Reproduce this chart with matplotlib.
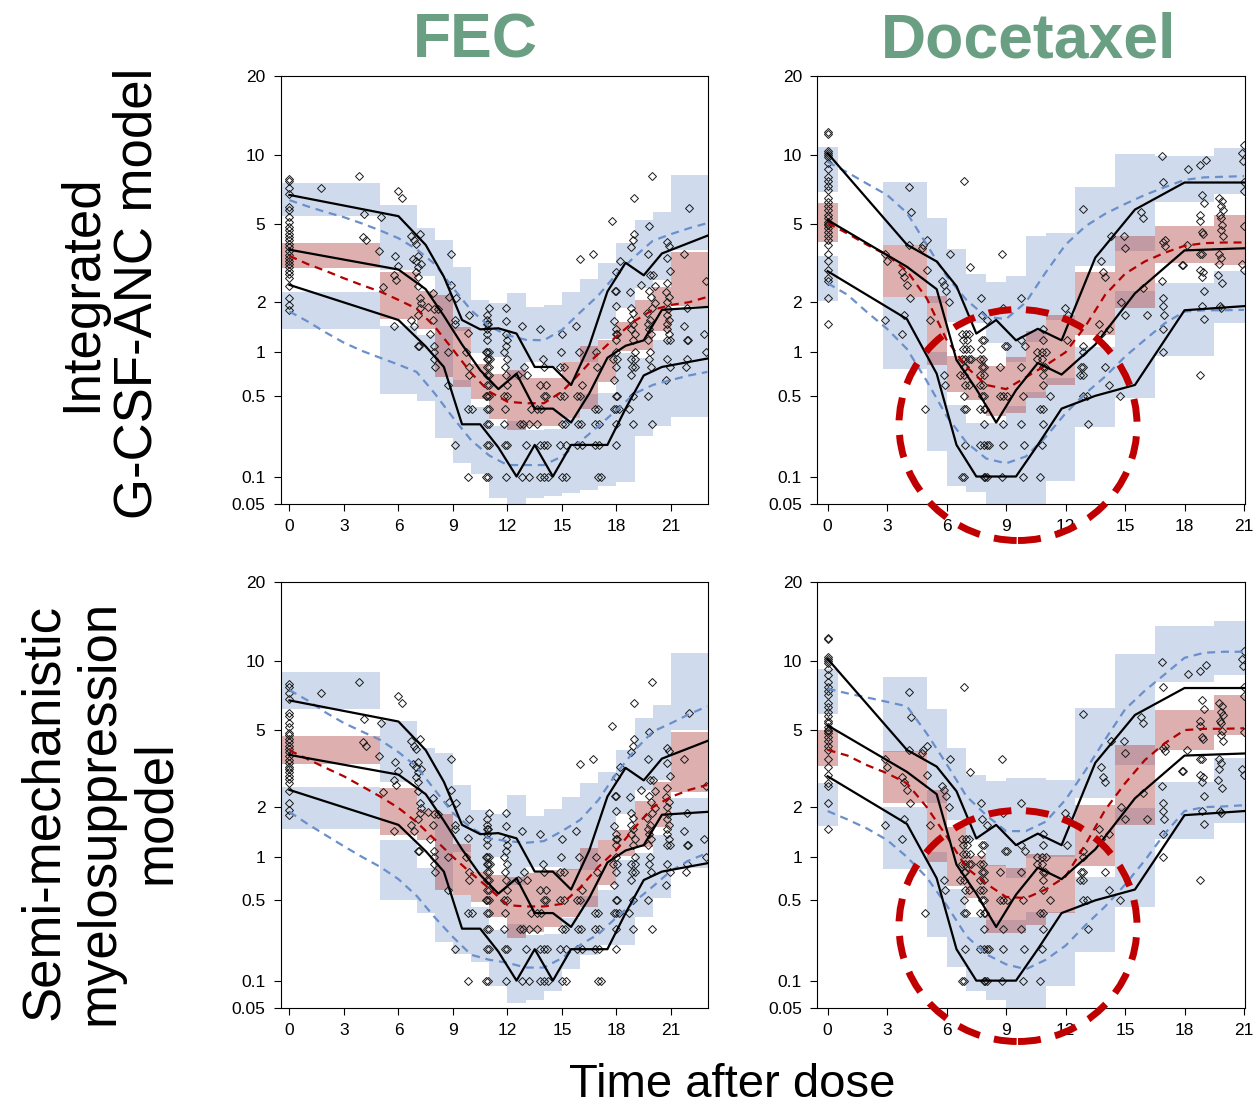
import numpy as np
import matplotlib.pyplot as plt
from matplotlib.patches import Ellipse
from matplotlib.ticker import NullLocator

plt.rcParams['font.family'] = ['Liberation Sans', 'DejaVu Sans']

# ---------------- FEC ----------------
fec_bin_lo = [-0.5, 5, 7, 8, 9, 10, 11, 12, 13, 14, 15, 16, 17, 18, 19, 20, 21]
fec_bin_hi = [5, 7, 8, 9, 10, 11, 12, 13, 14, 15, 16, 17, 18, 19, 20, 21, 23.1]

# CI of simulated percentiles per bin (low, high): integrated G-CSF-ANC model
fec_int_p95 = [(5.45, 7.7), (3.0, 6.13), (2.79, 4.79), (1.31, 4.23), (1.35, 3.08), (0.985, 2.06),
               (0.937, 1.97), (0.652, 2.24), (0.867, 1.88), (0.80, 1.93), (0.867, 2.29), (0.867, 2.67),
               (1.22, 3.23), (1.85, 4.07), (2.39, 5.24), (2.65, 5.73), (3.77, 8.27)]
fec_int_p50 = [(3.04, 4.09), (1.61, 2.90), (1.39, 2.31), (0.685, 2.19), (0.584, 1.43), (0.47, 0.837),
               (0.33, 0.72), (0.267, 0.762), (0.289, 0.67), (0.293, 0.67), (0.336, 0.86), (0.40, 1.09),
               (0.634, 1.20), (1.02, 1.53), (1.04, 2.07), (1.35, 2.44), (1.91, 3.70)]
fec_int_p05 = [(1.40, 2.29), (0.52, 1.46), (0.46, 1.28), (0.228, 1.34), (0.135, 0.652), (0.107, 0.413),
               (0.058, 0.289), (0.05, 0.317), (0.058, 0.27), (0.062, 0.275), (0.066, 0.339), (0.072, 0.52),
               (0.08, 0.528), (0.088, 0.985), (0.237, 0.913), (0.289, 1.20), (0.346, 1.85)]
# semi-mechanistic myelosuppression model
fec_sm_p95 = [(6.22, 9.0), (2.76, 5.5), (1.93, 4.1), (1.06, 3.84), (1.07, 2.63), (0.80, 1.92),
              (1.0, 1.84), (0.65, 2.34), (0.863, 1.79), (0.863, 1.94), (0.82, 2.29), (0.82, 2.70),
              (1.28, 3.11), (1.84, 3.99), (2.49, 5.66), (2.81, 6.5), (5.0, 10.8)]
fec_sm_p50 = [(3.42, 4.67), (1.38, 2.54), (1.28, 1.93), (0.60, 1.84), (0.55, 1.21), (0.49, 0.80),
              (0.375, 0.76), (0.252, 0.74), (0.28, 0.778), (0.312, 0.82), (0.375, 0.83), (0.449, 1.14),
              (0.65, 1.28), (1.01, 1.48), (1.16, 2.17), (1.53, 2.76), (2.44, 4.90)]
fec_sm_p05 = [(1.50, 2.59), (0.50, 1.28), (0.40, 0.84), (0.232, 1.22), (0.18, 0.55), (0.154, 0.449),
              (0.087, 0.292), (0.057, 0.33), (0.062, 0.264), (0.078, 0.272), (0.13, 0.364), (0.178, 0.54),
              (0.218, 0.597), (0.216, 0.96), (0.37, 1.06), (0.52, 1.38), (0.84, 2.24)]

fec_days = list(range(0, 24))
fec_int_pred_hi = [6.45, 6.05, 5.7, 5.4, 5.05, 4.68, 4.3, 3.8, 3.2, 2.4, 1.8, 1.45, 1.28, 1.2, 1.19, 1.38,
                   1.75, 2.18, 2.84, 3.49, 4.18, 4.5, 4.8, 5.07]
fec_int_pred_med = [3.52, 3.2, 2.95, 2.70, 2.48, 2.29, 2.06, 1.84, 1.44, 1.04, 0.727, 0.537, 0.452, 0.44,
                    0.44, 0.537, 0.727, 0.985, 1.26, 1.56, 1.81, 1.93, 2.0, 2.14]
fec_int_pred_lo = [1.77, 1.55, 1.33, 1.15, 1.02, 0.92, 0.83, 0.74, 0.52, 0.34, 0.22, 0.16, 0.13, 0.13,
                   0.13, 0.157, 0.214, 0.289, 0.39, 0.52, 0.60, 0.65, 0.70, 0.74]
fec_sm_pred_hi = [7.55, 6.8, 6.0, 5.37, 4.9, 4.47, 3.9, 3.3, 2.49, 1.85, 1.52, 1.31, 1.26, 1.23, 1.26,
                  1.45, 1.69, 2.19, 3.05, 3.98, 4.9, 5.36, 5.9, 6.4]
fec_sm_pred_med = [3.98, 3.6, 3.25, 2.94, 2.6, 2.29, 1.98, 1.64, 1.29, 1.0, 0.78, 0.61, 0.46, 0.45, 0.45,
                   0.47, 0.62, 0.86, 1.11, 1.52, 2.0, 2.28, 2.49, 2.65]
fec_sm_pred_lo = [1.88, 1.6, 1.37, 1.17, 1.0, 0.86, 0.71, 0.54, 0.37, 0.255, 0.178, 0.16, 0.15, 0.135,
                  0.135, 0.166, 0.218, 0.27, 0.37, 0.49, 0.63, 0.81, 0.95, 1.06]

# observed percentiles per bin
fec_obs_x = [0, 6, 7.5, 8.5, 9.5, 10.5, 11.5, 12.5, 13.5, 14.5, 15.5, 16.5, 17.5, 18.5, 19.5, 20.5, 23]
fec_obs_hi = [6.8, 5.46, 3.99, 2.75, 1.58, 1.39, 1.41, 1.31, 0.80, 0.80, 0.60, 1.10, 2.29, 3.25, 2.80, 3.62, 4.42]
fec_obs_med = [3.78, 3.0, 2.36, 1.67, 1.12, 0.76, 0.56, 0.72, 0.40, 0.40, 0.31, 0.52, 0.92, 1.1, 1.19, 1.81, 1.88]
fec_obs_lo = [2.49, 1.58, 1.09, 0.80, 0.30, 0.30, 0.19, 0.10, 0.20, 0.10, 0.20, 0.20, 0.20, 0.40, 0.70, 0.80, 0.91]

# observed ANC (time after dose, value)
fec_points = [
    (0, 8.0), (0, 7.8), (0, 7.3), (0, 6.9), (0, 6.0), (0, 5.8), (0, 5.4), (0, 5.15), (0, 4.85), (0, 4.7),
    (0, 4.5), (0, 4.35), (0, 4.2), (0, 4.05), (0, 3.9), (0, 3.72), (0, 3.55), (0, 3.45), (0, 3.3), (0, 3.2),
    (0, 3.08), (0, 2.95), (0, 2.85), (0, 2.7), (0, 2.45), (0, 2.1), (0, 1.93), (0, 1.8),
    (1.74, 7.3), (3.85, 8.2), (4.13, 5.6), (4.04, 4.35), (4.24, 4.2), (4.92, 3.72), (5.05, 5.4), (5.96, 7.1),
    (6.18, 6.6), (5.83, 3.5), (6.0, 3.13), (5.74, 2.8), (5.87, 2.65), (5.17, 2.42), (5.78, 1.45),
    (6.70, 4.4), (6.84, 4.2), (6.97, 4.05), (7.16, 4.5), (6.79, 3.4), (6.97, 3.3), (7.1, 3.5), (7.25, 3.2),
    (7.06, 3.1), (6.97, 2.9), (7.1, 2.75), (7.06, 2.45), (7.16, 2.1), (7.25, 1.97), (7.21, 1.85), (7.06, 1.7),
    (6.7, 1.58), (6.88, 1.45), (7.06, 1.1), (7.12, 1.1), (7.61, 1.88), (7.76, 1.3), (7.89, 2.25), (7.98, 1.82),
    (8.17, 1.82), (7.89, 1.58), (7.98, 1.1), (7.98, 1.0), (7.93, 0.9), (8.02, 0.8),
    (8.9, 3.6), (8.9, 2.5), (8.77, 2.15), (9.17, 2.1), (9.12, 1.58), (9.12, 1.5), (8.72, 1.0), (8.72, 0.6),
    (9.91, 1.7), (9.82, 1.32), (9.72, 1.0), (9.91, 0.8), (9.91, 0.7), (9.12, 0.2), (9.85, 0.1),
    (10.88, 1.7), (11.0, 1.85), (10.9, 1.58), (10.85, 1.5), (10.95, 1.5), (10.9, 1.4), (10.9, 1.3),
    (10.9, 1.2), (10.8, 1.0), (10.9, 1.0), (11.0, 1.0), (10.85, 0.9), (10.95, 0.9), (11.05, 0.9),
    (10.85, 0.8), (11.0, 0.8), (10.85, 0.7), (11.0, 0.7), (10.85, 0.6), (11.0, 0.6), (10.8, 0.5),
    (10.9, 0.5), (11.0, 0.5), (9.85, 0.4), (10.05, 0.4), (10.85, 0.4), (11.0, 0.4), (10.85, 0.3),
    (11.0, 0.3), (10.85, 0.2), (11.0, 0.2), (10.8, 0.1), (10.95, 0.1),
    (11.9, 1.85), (11.9, 1.55), (11.9, 1.3), (11.95, 1.2), (11.9, 1.1), (11.8, 1.0), (11.95, 0.9),
    (11.85, 0.8), (11.9, 0.7), (11.95, 0.6), (11.8, 0.5), (11.95, 0.5), (11.85, 0.4), (11.8, 0.3),
    (11.85, 0.2), (11.95, 0.2), (11.9, 0.1),
    (12.79, 1.45), (13.0, 0.2), (12.8, 0.1), (13.2, 0.1), (12.6, 0.7), (12.9, 0.8), (13.05, 0.7),
    (12.7, 0.3), (12.85, 0.3), (13.8, 1.4), (13.96, 0.9), (14.0, 0.8), (13.8, 0.6), (14.1, 0.6),
    (14.0, 0.5), (14.1, 0.5), (13.3, 0.4), (13.6, 0.4), (13.85, 0.4), (13.2, 0.3), (13.6, 0.3),
    (13.8, 0.2), (14.0, 0.2), (14.2, 0.2), (13.8, 0.1), (14.0, 0.1), (14.25, 0.1),
    (14.94, 1.0), (15.0, 1.3), (14.9, 0.8), (15.1, 0.8), (14.9, 0.5), (15.1, 0.5), (15.0, 0.3),
    (15.15, 0.3), (14.9, 0.2), (15.2, 0.2), (15.0, 0.1), (15.2, 0.1),
    (15.76, 1.45), (16.0, 3.4), (15.95, 1.0), (15.8, 0.5), (16.0, 0.5), (16.1, 0.6), (15.9, 0.3),
    (16.05, 0.3), (15.85, 0.2), (16.1, 0.2), (16.73, 3.6), (16.86, 1.0), (16.95, 0.8), (16.8, 0.4),
    (17.0, 0.4), (16.8, 0.3), (17.05, 0.3), (16.8, 0.2), (17.05, 0.2), (17.0, 0.1), (17.15, 0.1),
    (17.78, 5.2), (17.97, 2.9), (17.9, 2.3), (18.0, 2.3), (17.95, 1.9), (17.85, 1.55), (18.0, 1.4),
    (17.95, 1.3), (18.05, 1.3), (17.95, 1.2), (18.0, 1.0), (17.8, 0.9), (18.05, 0.9), (17.95, 0.8),
    (17.85, 0.65), (17.95, 0.5), (18.05, 0.5), (17.85, 0.4), (18.0, 0.4), (18.15, 0.4), (17.95, 0.3),
    (17.95, 0.2), (18.2, 3.3),
    (18.8, 3.9), (18.9, 4.2), (18.95, 4.5), (18.95, 6.6), (18.75, 2.27), (18.8, 1.85), (18.9, 1.73),
    (18.8, 1.58), (18.9, 1.5), (18.8, 1.4), (19.0, 1.3), (18.9, 1.2), (19.0, 1.0), (18.8, 0.9), (19.0, 0.9),
    (18.85, 0.8), (19.0, 0.8), (18.8, 0.7), (18.9, 0.5), (18.7, 0.4), (18.9, 0.3),
    (19.33, 2.5), (19.8, 4.9), (19.75, 3.6), (19.86, 2.8), (19.8, 2.3), (19.9, 2.15), (19.7, 1.73),
    (19.85, 1.58), (19.75, 1.5), (19.8, 1.4), (19.9, 1.3), (19.75, 1.2), (19.85, 1.0), (19.8, 0.9),
    (19.9, 0.8), (19.75, 0.5), (19.95, 0.3), (19.96, 8.2), (20.1, 2.45), (20.0, 2.8), (20.1, 1.97),
    (19.98, 1.85),
    (20.8, 4.1), (20.9, 3.95), (20.8, 3.45), (20.95, 2.95), (20.8, 2.55), (20.75, 2.27), (20.9, 2.14),
    (20.8, 2.0), (20.85, 1.83), (20.8, 1.7), (20.9, 1.58), (20.8, 1.5), (20.8, 1.4), (20.9, 1.3),
    (20.8, 1.2), (20.95, 1.2), (20.8, 0.9), (20.95, 0.8), (20.75, 0.65),
    (21.7, 3.6), (21.99, 5.95), (21.87, 1.85), (21.7, 1.45), (21.87, 1.2), (21.95, 1.2), (21.87, 0.9),
    (21.8, 0.8), (22.9, 2.6), (22.8, 1.3), (22.9, 1.0),
]

# ---------------- Docetaxel ----------------
doc_bin_lo = [-0.6, 2.8, 5, 6, 7, 8, 9, 10, 11, 12.5, 14.5, 16.5, 19.5]
doc_bin_hi = [0.5, 5, 6, 7, 8, 9, 10, 11, 12.5, 14.5, 16.5, 19.5, 21.2]

doc_int_p95 = [(7.0, 10.8), (3.99, 7.77), (1.98, 5.38), (1.54, 3.79), (1.51, 2.86), (1.14, 2.59),
               (0.867, 2.77), (1.16, 4.40), (1.58, 4.53), (3.11, 7.36), (3.71, 10.1), (6.35, 9.9), (6.9, 10.7)]
doc_int_p50 = [(4.12, 6.25), (2.15, 3.99), (0.82, 2.17), (0.537, 0.945), (0.465, 0.937), (0.35, 0.815),
               (0.37, 0.937), (0.479, 1.36), (0.60, 1.69), (1.28, 2.90), (1.85, 4.40), (3.23, 4.90), (3.18, 5.52)]
doc_int_p05 = [(2.04, 3.52), (0.78, 2.13), (0.175, 1.01), (0.079, 0.426), (0.069, 0.306), (0.05, 0.306),
               (0.05, 0.42), (0.05, 0.537), (0.089, 0.67), (0.287, 1.08), (0.479, 2.32), (0.945, 2.54), (1.52, 2.95)]
doc_sm_p95 = [(5.93, 9.3), (3.92, 8.6), (2.1, 6.2), (1.69, 4.07), (1.28, 2.99), (0.87, 2.79),
              (0.72, 2.87), (0.985, 2.87), (1.0, 2.82), (2.24, 6.28), (3.37, 10.7), (8.17, 13.8), (8.72, 14.4)]
doc_sm_p50 = [(3.33, 4.99), (2.1, 3.96), (0.93, 2.49), (0.64, 1.53), (0.52, 1.02), (0.274, 0.885),
              (0.274, 0.84), (0.322, 1.04), (0.40, 1.03), (0.87, 2.06), (1.58, 4.23), (3.99, 6.15), (4.72, 7.2)]
doc_sm_p05 = [(1.55, 2.7), (0.83, 2.01), (0.257, 1.08), (0.138, 0.61), (0.077, 0.375), (0.062, 0.353),
              (0.05, 0.353), (0.05, 0.41), (0.087, 0.41), (0.188, 0.74), (0.449, 1.97), (1.30, 2.76), (1.62, 3.63)]

doc_days = list(range(0, 22))
doc_int_pred_hi = [9.4, 8.5, 7.6, 6.8, 5.65, 4.0, 2.77, 2.06, 1.65, 1.6, 2.0, 2.9, 4.0, 4.9, 5.6, 6.2,
                   6.8, 7.35, 7.9, 8.1, 8.15, 8.2]
doc_int_pred_med = [5.07, 4.53, 3.99, 3.55, 2.95, 2.1, 1.2, 0.8, 0.6, 0.56, 0.68, 0.82, 1.0, 1.45, 2.2,
                    2.85, 3.3, 3.65, 3.95, 4.07, 4.1, 4.1]
doc_int_pred_lo = [2.54, 2.2, 1.75, 1.4, 1.05, 0.64, 0.35, 0.21, 0.15, 0.135, 0.157, 0.235, 0.368, 0.52,
                   0.688, 0.937, 1.20, 1.51, 1.77, 1.8, 1.8, 1.81]
doc_sm_pred_hi = [7.65, 7.3, 7.0, 6.7, 6.4, 4.8, 3.4, 2.3, 1.8, 1.45, 1.45, 1.65, 2.2, 3.15, 4.5, 6.2,
                  7.5, 8.8, 10.3, 10.8, 10.9, 10.9]
doc_sm_pred_med = [4.0, 3.75, 3.35, 3.05, 2.7, 2.0, 1.35, 0.85, 0.66, 0.53, 0.52, 0.6, 0.74, 1.2, 1.93,
                   2.7, 3.56, 4.31, 4.98, 5.05, 5.05, 5.08]
doc_sm_pred_lo = [1.9, 1.7, 1.5, 1.28, 1.0, 0.73, 0.46, 0.26, 0.18, 0.145, 0.13, 0.16, 0.215, 0.32, 0.45,
                  0.65, 0.95, 1.4, 1.9, 2.0, 2.02, 2.05]

doc_obs_x = [0, 4.0, 5.5, 6.5, 7.5, 8.5, 9.5, 10.6, 11.8, 13.5, 15.5, 18.0, 21.0]
doc_obs_hi = [10.2, 4.0, 3.3, 2.45, 1.31, 1.58, 1.19, 1.40, 1.19, 3.45, 5.85, 7.7, 7.7]
doc_obs_med = [5.24, 3.1, 2.36, 0.89, 0.56, 0.31, 0.55, 0.85, 0.71, 1.12, 2.24, 3.75, 3.84]
doc_obs_lo = [2.94, 1.6, 0.72, 0.2, 0.1, 0.1, 0.1, 0.2, 0.40, 0.5, 0.6, 1.8, 1.9]

doc_points = [
    (0, 12.4), (0, 12.2), (0, 10.4), (0, 10.2), (0, 10.0), (0, 9.8), (0, 9.3), (0, 8.75), (0, 8.15),
    (0, 7.8), (0, 7.45), (0, 7.15), (0, 6.6), (0, 6.35), (0, 6.05), (0, 5.8), (0, 5.5), (0, 5.35),
    (0, 5.15), (0, 5.0), (0, 4.95), (0, 4.8), (0, 4.6), (0, 4.4), (0, 4.2), (0, 4.0), (0, 3.6), (0, 3.3),
    (0, 3.0), (0, 2.7), (0, 2.6), (0, 2.1), (0, 1.5),
    (4.08, 7.4), (4.22, 5.7), (6.9, 7.8), (8.79, 3.6), (7.19, 3.1), (6.15, 3.6), (5.0, 4.2), (4.8, 4.0),
    (4.75, 3.85), (4.08, 4.0), (2.9, 3.6), (3.0, 3.3), (3.75, 2.9), (3.87, 2.75), (4.0, 2.5), (4.14, 2.1),
    (2.9, 1.58), (3.87, 1.7), (3.75, 1.3), (4.92, 0.4), (5.15, 1.58), (5.76, 2.6), (5.88, 2.5),
    (5.98, 2.3), (6.1, 2.0), (5.85, 0.7), (5.93, 0.6), (5.0, 3.0), (7.73, 2.1), (7.78, 1.7), (8.03, 1.58),
    (8.84, 1.85), (9.75, 2.1),
    (6.8, 1.3), (6.97, 1.3), (7.15, 1.3), (6.85, 1.2), (7.02, 1.2), (6.85, 1.05), (6.99, 1.05),
    (7.16, 1.05), (6.77, 0.9), (6.94, 0.9), (7.11, 0.9), (7.23, 0.9), (6.86, 0.8), (6.94, 0.8),
    (6.69, 0.7), (6.86, 0.7), (7.11, 0.6), (6.94, 0.6), (6.86, 0.5), (6.86, 0.4), (6.99, 0.4),
    (6.94, 0.2), (6.77, 0.1), (6.89, 0.1),
    (7.78, 1.2), (7.9, 1.2), (7.73, 1.05), (7.7, 0.9), (7.83, 0.9), (7.78, 0.8), (7.9, 0.8), (7.7, 0.7),
    (7.87, 0.7), (7.7, 0.6), (7.83, 0.6), (7.78, 0.5), (7.9, 0.5), (7.7, 0.4), (7.87, 0.4), (7.95, 0.4),
    (7.9, 0.3), (7.7, 0.2), (7.87, 0.2), (8.03, 0.2), (8.12, 0.2), (7.87, 0.1), (7.95, 0.1), (8.03, 0.1),
    (8.67, 0.8), (8.95, 1.1), (9.07, 1.1), (8.67, 0.5), (8.87, 0.5), (9.04, 0.5), (8.87, 0.3),
    (8.87, 0.2), (8.82, 0.1), (9.75, 0.8), (9.83, 0.5), (9.75, 0.3), (9.88, 0.2), (9.83, 0.1),
    (9.97, 1.1), (9.75, 1.2),
    (10.87, 1.4), (10.87, 1.2), (10.54, 1.0), (10.79, 1.0), (11.01, 1.0), (10.79, 0.9), (10.54, 0.9),
    (10.87, 0.8), (10.96, 0.8), (10.87, 0.7), (10.84, 0.6), (11.21, 0.5), (10.87, 0.4), (10.7, 0.4),
    (10.87, 0.3), (10.79, 0.2), (10.7, 0.1),
    (11.97, 1.85), (12.1, 1.7), (12.05, 1.2), (12.89, 5.9), (12.89, 1.1), (12.89, 1.0), (12.8, 0.8),
    (12.89, 0.8), (12.72, 0.7), (12.89, 0.7), (12.86, 0.5), (13.1, 0.5), (13.14, 0.3),
    (13.9, 2.9), (14.0, 2.75), (13.8, 3.3), (13.7, 1.5), (13.8, 1.3), (14.2, 1.4), (14.0, 0.8),
    (14.2, 0.6), (14.74, 0.5), (14.94, 4.4), (15.0, 3.85), (14.3, 4.4), (14.8, 2.0), (15.0, 1.7),
    (15.9, 5.35), (15.8, 5.7), (16.1, 1.7), (15.9, 2.4),
    (16.87, 9.9), (16.9, 7.75), (16.9, 4.1), (17.0, 4.2), (17.0, 3.95), (16.86, 2.6), (16.9, 2.1),
    (16.9, 1.9), (16.95, 1.7), (16.9, 1.4), (16.9, 1.0),
    (18.1, 4.0), (17.9, 3.15), (17.85, 3.15), (18.2, 8.8), (18.8, 9.1), (19.1, 9.6), (18.86, 6.8),
    (19.0, 6.25), (18.8, 5.5), (18.8, 5.2), (18.9, 4.6), (18.95, 4.5), (18.8, 3.6), (18.9, 3.6),
    (18.8, 3.0), (18.95, 2.9), (18.9, 2.75), (19.0, 2.3), (18.9, 1.9), (19.0, 1.6), (18.8, 0.7),
    (19.75, 6.6), (19.9, 6.4), (19.85, 6.05), (19.95, 5.85), (19.78, 5.5), (19.85, 5.35), (19.9, 4.95),
    (19.85, 4.7), (19.95, 4.4), (19.75, 3.6), (19.85, 3.45), (19.75, 3.2), (19.7, 2.8), (19.9, 2.55),
    (19.78, 1.9), (19.85, 1.85),
    (21.0, 11.0), (20.9, 10.2), (20.95, 9.5), (21.0, 7.75), (21.0, 7.1), (21.0, 4.9), (20.9, 3.2), (21.0, 3.0),
]

y_ticks = [0.05, 0.1, 0.5, 1, 2, 5, 10, 20]
y_tick_labels = ['0.05', '0.1', '0.5', '1', '2', '5', '10', '20']

BLUE_BAND = '#CFDBEC'
RED_BAND = '#AC3939'
BLUE_LINE = '#6A8FCB'
RED_LINE = '#B20000'


def fwd(v):
    return np.sign(v) * np.abs(v) ** 0.2


def inv(v):
    return np.sign(v) * np.abs(v) ** 5


def draw_vpc(ax, bin_lo, bin_hi, p95, p50, p05, days, pred_hi, pred_med, pred_lo,
             obs_x, obs_hi, obs_med, obs_lo, points, xlim):
    ax.set_yscale('function', functions=(fwd, inv))
    left = np.array(bin_lo)
    width = np.array(bin_hi) - left
    for band in (p95, p05):
        lo, hi = np.array(band).T
        ax.bar(left, hi - lo, width=width, bottom=lo, align='edge', color=BLUE_BAND,
               linewidth=0, zorder=1)
    lo, hi = np.array(p50).T
    ax.bar(left, hi - lo, width=width, bottom=lo, align='edge', color=RED_BAND, alpha=0.4,
           linewidth=0, zorder=1.1)

    t, y = np.array(points).T
    ax.plot(t, y, ls='none', marker='D', ms=3.6, mfc='none', mec='#1a1a1a', mew=0.7, zorder=2)

    for pred, col in ((pred_hi, BLUE_LINE), (pred_lo, BLUE_LINE), (pred_med, RED_LINE)):
        ax.plot(days, pred, color=col, lw=1.6, dashes=(3.6, 2.6), zorder=3)
    for obs in (obs_hi, obs_med, obs_lo):
        ax.plot(obs_x, obs, color='black', lw=1.6, zorder=4)

    ax.set_xlim(*xlim)
    ax.set_ylim(0.05, 20)
    ax.set_yticks(y_ticks)
    ax.set_yticklabels(y_tick_labels)
    ax.yaxis.set_minor_locator(NullLocator())
    ax.set_xticks(range(0, 22, 3))
    ax.tick_params(direction='out', length=5, width=0.8, labelsize=12.5, pad=6)
    for s in ax.spines.values():
        s.set_linewidth(0.8)


W, H = 1258, 1108
fig = plt.figure(figsize=(W / 100, H / 100), dpi=100)

ax_tl = fig.add_axes([280.7 / W, 1 - 504 / H, 427 / W, 428 / H])
ax_tr = fig.add_axes([817.3 / W, 1 - 504 / H, 427.7 / W, 428 / H])
ax_bl = fig.add_axes([280.7 / W, 1 - 1008 / H, 427 / W, 426 / H])
ax_br = fig.add_axes([817.3 / W, 1 - 1008 / H, 427.7 / W, 426 / H])

fec_xlim = (-0.48, 23.02)
doc_xlim = (-0.52, 21.05)

draw_vpc(ax_tl, fec_bin_lo, fec_bin_hi, fec_int_p95, fec_int_p50, fec_int_p05,
         fec_days, fec_int_pred_hi, fec_int_pred_med, fec_int_pred_lo,
         fec_obs_x, fec_obs_hi, fec_obs_med, fec_obs_lo, fec_points, fec_xlim)
draw_vpc(ax_bl, fec_bin_lo, fec_bin_hi, fec_sm_p95, fec_sm_p50, fec_sm_p05,
         fec_days, fec_sm_pred_hi, fec_sm_pred_med, fec_sm_pred_lo,
         fec_obs_x, fec_obs_hi, fec_obs_med, fec_obs_lo, fec_points, fec_xlim)
draw_vpc(ax_tr, doc_bin_lo, doc_bin_hi, doc_int_p95, doc_int_p50, doc_int_p05,
         doc_days, doc_int_pred_hi, doc_int_pred_med, doc_int_pred_lo,
         doc_obs_x, doc_obs_hi, doc_obs_med, doc_obs_lo, doc_points, doc_xlim)
draw_vpc(ax_br, doc_bin_lo, doc_bin_hi, doc_sm_p95, doc_sm_p50, doc_sm_p05,
         doc_days, doc_sm_pred_hi, doc_sm_pred_med, doc_sm_pred_lo,
         doc_obs_x, doc_obs_hi, doc_obs_med, doc_obs_lo, doc_points, doc_xlim)

# column titles and row labels
green = '#6A9F83'
fig.text(475 / W, 1 - 58 / H, 'FEC', ha='center', va='baseline', fontsize=45,
         fontweight='bold', color=green)
fig.text(1029 / W, 1 - 58 / H, 'Docetaxel', ha='center', va='baseline', fontsize=45,
         fontweight='bold', color=green)
fig.text(110 / W, 1 - 293 / H, 'Integrated\nG-CSF-ANC model', rotation=90, ha='center',
         va='center', fontsize=38, multialignment='center', linespacing=1.15)
fig.text(100 / W, 1 - 812 / H, 'Semi-mechanistic\nmyelosuppression\nmodel', rotation=90,
         ha='center', va='center', fontsize=38, multialignment='center', linespacing=1.15)
fig.text(732 / W, 1 - 1097 / H, 'Time after dose', ha='center', va='baseline', fontsize=34)

# highlight the nadir region on the docetaxel panels
for cy in (425, 926):
    fig.add_artist(Ellipse((1018 / W, 1 - cy / H), 238 / W, 231 / H, transform=fig.transFigure,
                           fill=False, ec='#C00000', lw=5, ls=(0, (3.3, 2.1)), zorder=10))

fig.savefig('out.png', dpi=100)
